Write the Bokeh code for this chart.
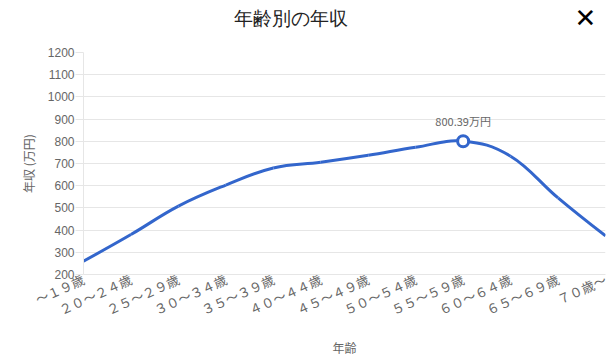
from bokeh.plotting import figure
from bokeh.models import Label, Range1d, FixedTicker
from bokeh.embed import file_html
from bokeh.resources import INLINE

# ---- data ----
categories = ["～１９歳", "２０～２４歳", "２５～２９歳", "３０～３４歳", "３５～３９歳",
              "４０～４４歳", "４５～４９歳", "５０～５４歳", "５５～５９歳", "６０～６４歳",
              "６５～６９歳", "７０歳～"]
income = [260, 380, 508, 603, 680, 706, 737, 773, 800.39, 733, 545, 374]
y_ticks = [200, 300, 400, 500, 600, 700, 800, 900, 1000, 1100, 1200]
title_text = "年齢別の年収"
x_title = "年齢"
y_title = "年収 (万円)"
peak_label = "800.39万円"

LINE = "#3366cc"
GRAY = "#666666"
GRID = "#e6e6e6"

xs = list(range(len(categories)))

p = figure(width=610, height=358, output_backend="svg", toolbar_location=None,
           x_range=Range1d(0, len(categories) - 1), y_range=Range1d(200, 1200),
           min_border_left=83, min_border_right=5, min_border_top=52, min_border_bottom=83)
p.outline_line_color = None
p.background_fill_color = "white"
p.border_fill_color = "white"

# smooth curve (cubic bezier segments through the data points)
t = 0.2
x0s, y0s, x1s, y1s, cx0, cy0, cx1, cy1 = [], [], [], [], [], [], [], []
n = len(xs)
for i in range(n - 1):
    xa, ya = xs[i], income[i]
    xb, yb = xs[i + 1], income[i + 1]
    xp, yp = (xs[i - 1], income[i - 1]) if i > 0 else (xa, ya)
    xn, yn = (xs[i + 2], income[i + 2]) if i + 2 < n else (xb, yb)
    x0s.append(xa); y0s.append(ya); x1s.append(xb); y1s.append(yb)
    if i > 0:
        cx0.append(xa + t * (xb - xp)); cy0.append(ya + t * (yb - yp))
    else:
        cx0.append(xa); cy0.append(ya)
    if i + 2 < n:
        cx1.append(xb - t * (xn - xa)); cy1.append(yb - t * (yn - ya))
    else:
        cx1.append(xb); cy1.append(yb)

p.bezier(x0=x0s, y0=y0s, x1=x1s, y1=y1s, cx0=cx0, cy0=cy0, cx1=cx1, cy1=cy1,
         line_color=LINE, line_width=3)

imax = income.index(max(income))
p.scatter([xs[imax]], [income[imax]], size=11, fill_color="white",
          line_color=LINE, line_width=3)
p.add_layout(Label(x=xs[imax], y=income[imax], text=peak_label, y_offset=12,
                   text_align="center", text_baseline="bottom", text_color=GRAY,
                   text_font_size="11px", text_font="Noto Sans CJK JP"))

# axes
p.xaxis.ticker = FixedTicker(ticks=xs)
p.xaxis.major_label_overrides = {i: c for i, c in zip(xs, categories)}
p.xaxis.major_label_orientation = 0.42
p.xaxis.major_tick_out = 0
p.xaxis.major_tick_in = 0
p.xaxis.minor_tick_out = 0
p.xaxis.minor_tick_in = 0
p.xaxis.axis_line_color = GRID
p.xaxis.major_label_text_color = GRAY
p.xaxis.major_label_text_font = "Noto Sans CJK JP"
p.xaxis.major_label_text_font_size = "13px"
p.xaxis.major_label_standoff = 4
p.xaxis.axis_label = x_title
p.xaxis.axis_label_text_font = "Noto Sans CJK JP"
p.xaxis.axis_label_text_font_size = "12px"
p.xaxis.axis_label_text_font_style = "normal"
p.xaxis.axis_label_text_color = GRAY
p.xaxis.axis_label_standoff = 8

p.yaxis.ticker = FixedTicker(ticks=y_ticks)
p.yaxis.major_tick_out = 8
p.yaxis.major_tick_in = 0
p.yaxis.minor_tick_out = 0
p.yaxis.minor_tick_in = 0
p.yaxis.major_tick_line_color = GRID
p.yaxis.axis_line_color = GRID
p.yaxis.major_label_text_color = GRAY
p.yaxis.major_label_text_font = "Liberation Sans"
p.yaxis.major_label_text_font_size = "12px"
p.yaxis.major_label_standoff = 1
p.yaxis.axis_label = y_title
p.yaxis.axis_label_text_font = "Noto Sans CJK JP"
p.yaxis.axis_label_text_font_size = "12px"
p.yaxis.axis_label_text_font_style = "normal"
p.yaxis.axis_label_text_color = GRAY
p.yaxis.axis_label_standoff = 8

p.xgrid.grid_line_color = None
p.ygrid.grid_line_color = GRID
p.ygrid.grid_line_width = 1

# close mark (row nearest the frame) and title (outer row)
p.add_layout(Label(x=502, y=34.5, x_units="screen", y_units="screen", text="✕",
                   text_align="center", text_baseline="middle", text_color="#000000",
                   text_font_size="26px", text_font="DejaVu Sans"), "above")
p.add_layout(Label(x=207, y=4.2, x_units="screen", y_units="screen", text=title_text,
                   text_align="center", text_baseline="middle", text_color="#222222",
                   text_font_size="19px", text_font="Liberation Sans"), "above")

open("out.html", "w").write(file_html(p, INLINE))
